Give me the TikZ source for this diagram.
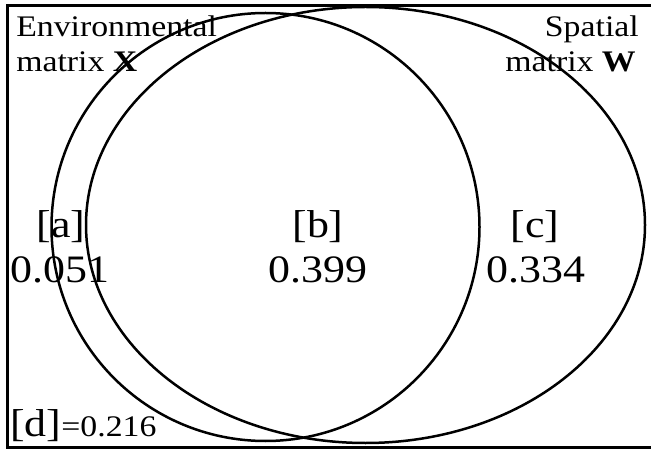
\documentclass[tikz,border=0pt]{standalone}
\usepackage{fontspec}
\setmainfont{Liberation Serif}[FakeStretch=1.13]
\begin{document}
\begin{tikzpicture}[x=1bp,y=-1bp,line width=2.5bp,
  lbl/.style={inner sep=0pt,font=\fontsize{30}{36}\selectfont},
  big/.style={inner sep=0pt,font=\fontsize{39}{44}\selectfont}]
\useasboundingbox (0,0) rectangle (651,449);
% frame (right side lies outside the picture)
\coordinate (ftr) at (651,5.5);
\coordinate (ftl) at (7.5,5.5);
\coordinate (fbl) at (7.5,447.5);
\coordinate (fbr) at (651,447.5);
\draw[line width=2.5bp] (ftr) -- (ftl) -- (fbl) -- (fbr);
% sets
\draw (265.5,227) circle[radius=214];
\draw (365.5,225) ellipse[x radius=279.5,y radius=218];
% titles
\node[lbl,anchor=base west] (envA) at (15,37) {Environmental};
\node[lbl,anchor=base west] (envB) at (15,72) {matrix \textbf{X}};
\node[lbl,anchor=base east] (spaA) at (640,37) {Spatial};
\node[lbl,anchor=base east] (spaB) at (637,72) {matrix \textbf{W}};
% fractions
\node[big,anchor=base] (la) at (61,238) {[a]};
\node[big,anchor=base] (na) at (60,283) {0.051};
\node[big,anchor=base] (lb) at (318,238) {[b]};
\node[big,anchor=base] (nb) at (318,283) {0.399};
\node[big,anchor=base] (lc) at (535,238) {[c]};
\node[big,anchor=base] (nc) at (536,283) {0.334};
\node[inner sep=0pt,anchor=base west] (ld) at (9,436)
  {{\fontsize{39}{44}\selectfont[d]}{\fontsize{30}{36}\selectfont=0.216}};
\end{tikzpicture}
\end{document}
